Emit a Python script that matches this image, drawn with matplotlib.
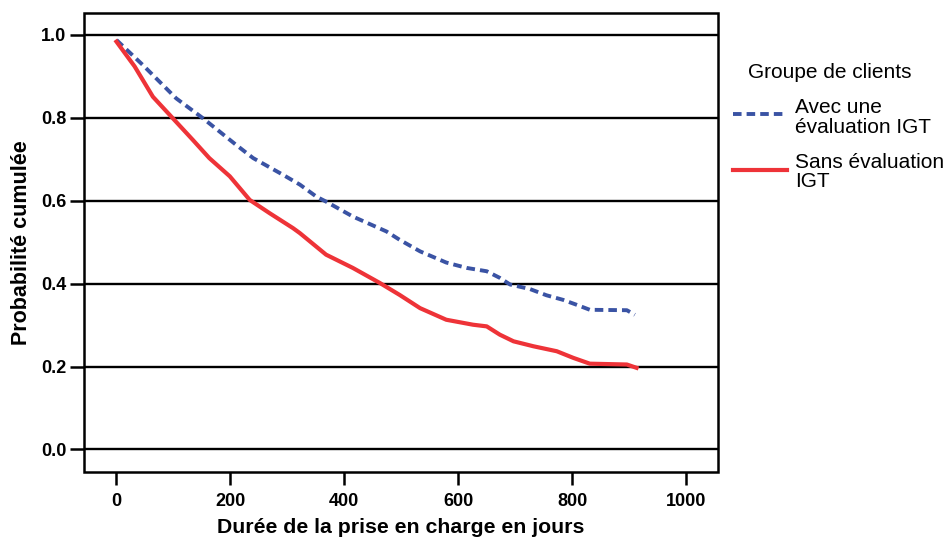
import matplotlib
matplotlib.use("Agg")
import matplotlib.pyplot as plt
from matplotlib.lines import Line2D
from matplotlib.patches import Rectangle

plt.rcParams['font.family'] = ['Liberation Sans', 'DejaVu Sans']

# Data (Kaplan-Meier style cumulative probability)
days_sans = [0, 32, 64, 99, 134, 163, 199, 234, 269, 310, 322, 368, 415, 462, 497,
             533, 579, 626, 650, 673, 697, 732, 773, 802, 831, 896, 913]
prob_sans = [0.984, 0.924, 0.851, 0.799, 0.747, 0.703, 0.659, 0.602, 0.570, 0.534,
             0.522, 0.470, 0.438, 0.402, 0.373, 0.341, 0.313, 0.301, 0.297, 0.277,
             0.261, 0.249, 0.237, 0.221, 0.207, 0.205, 0.197]

days_avec = [0, 46, 105, 152, 210, 240, 292, 322, 351, 368, 415, 474, 497, 533, 579,
             615, 650, 673, 691, 726, 755, 784, 808, 831, 896, 910]
prob_avec = [0.988, 0.928, 0.847, 0.799, 0.735, 0.703, 0.663, 0.639, 0.610, 0.598,
             0.562, 0.526, 0.506, 0.478, 0.451, 0.438, 0.430, 0.414, 0.398, 0.387,
             0.372, 0.361, 0.349, 0.337, 0.336, 0.325]

y_ticks = [0.0, 0.2, 0.4, 0.6, 0.8, 1.0]
x_ticks = [0, 200, 400, 600, 800, 1000]
legend_title = "Groupe de clients"
label_avec = "Avec une\névaluation IGT"
label_sans = "Sans évaluation\nIGT"

blue = '#3a53a4'
red = '#ee3338'

fig = plt.figure(figsize=(9.51, 5.45), dpi=100)
ax = fig.add_axes([0.0886, 0.1345, 0.6664, 0.8416])

for yv in y_ticks:
    ax.axhline(yv, color='black', lw=1.7, zorder=1)

ax.plot(days_avec, prob_avec, color=blue, lw=2.8, linestyle=(0, (2.2, 1.3)), zorder=3)
ax.plot(days_sans, prob_sans, color=red, lw=3.0, zorder=3)

ax.set_xlim(-56.5, 1056)
ax.set_ylim(-0.0536, 1.053)

for s in ax.spines.values():
    s.set_visible(False)
ax.add_patch(Rectangle((0, 0), 1, 1, transform=ax.transAxes, fill=False,
                       lw=1.8, edgecolor='black', clip_on=False, zorder=5))

ax.set_xticks(x_ticks)
ax.set_xticklabels([str(v) for v in x_ticks], fontsize=13, fontweight='bold')
ax.set_yticks(y_ticks)
ax.set_yticklabels([f"{v:.1f}" for v in y_ticks], fontsize=13, fontweight='bold')
ax.tick_params(axis='x', direction='out', length=9, width=1.8, pad=6)
ax.tick_params(axis='y', direction='out', length=10, width=1.8, pad=3)

ax.set_xlabel("Durée de la prise en charge en jours", fontsize=15.3, fontweight='bold', labelpad=6)
ax.set_ylabel("Probabilité cumulée", fontsize=15.5, fontweight='bold', labelpad=6)

# Legend drawn manually
W, H = 951.0, 545.0
fig.text(748 / W, 1 - 78.3 / H, legend_title, fontsize=15, ha='left', va='baseline')
fig.add_artist(Line2D([733 / W, 787 / W], [1 - 113.5 / H, 1 - 113.5 / H], color=blue,
                      lw=2.8, linestyle=(0, (2.2, 1.3))))
fig.add_artist(Line2D([733 / W, 787 / W], [1 - 170 / H, 1 - 170 / H], color=red, lw=3.0))
fig.text(795 / W, 1 - 132.7 / H, label_avec, fontsize=15, ha='left', va='baseline',
         linespacing=1.02)
fig.text(795 / W, 1 - 187.3 / H, label_sans, fontsize=15, ha='left', va='baseline',
         linespacing=1.02)

fig.savefig("out.png", dpi=100)
